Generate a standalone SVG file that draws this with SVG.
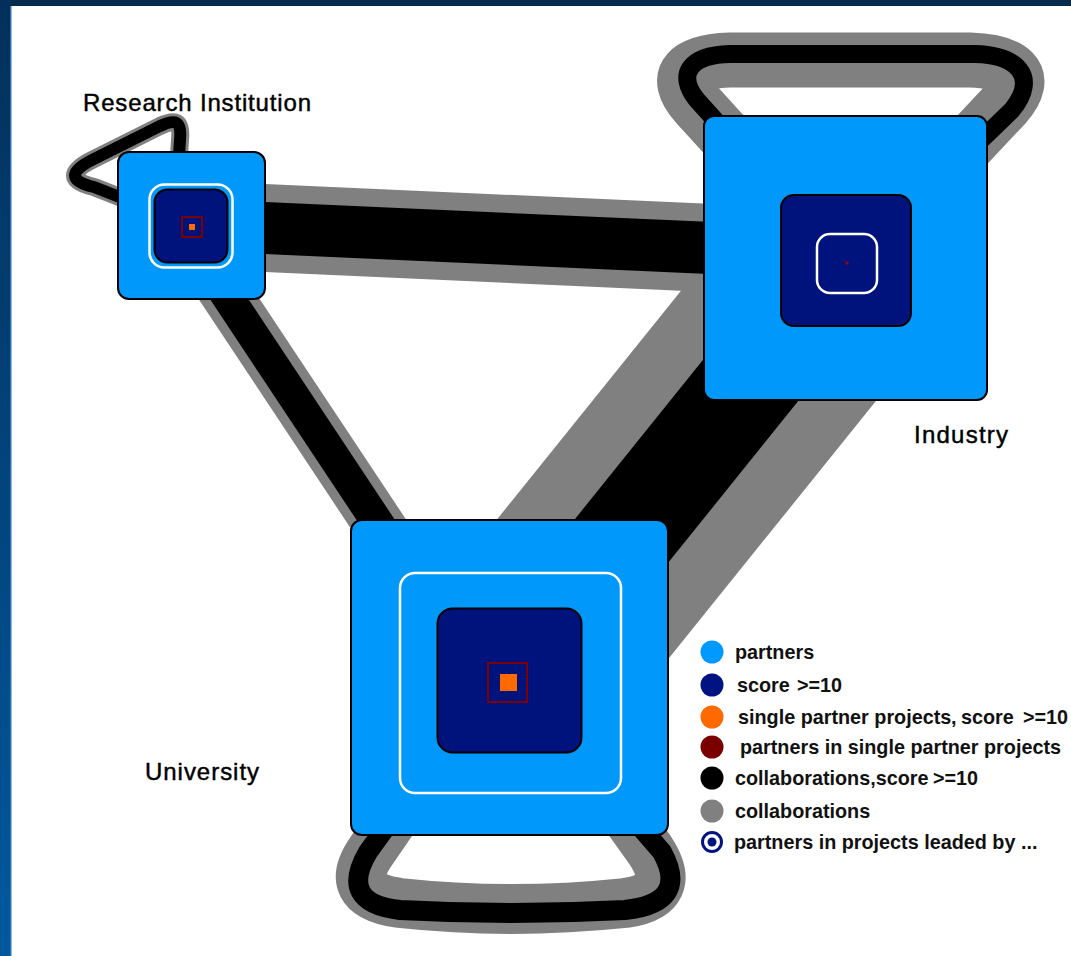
<svg xmlns="http://www.w3.org/2000/svg" width="1071" height="956" viewBox="0 0 1071 956">
<defs>
<linearGradient id="side" x1="0" y1="0" x2="0" y2="1">
<stop offset="0" stop-color="#03305a"/>
<stop offset="1" stop-color="#02589e"/>
</linearGradient>
</defs>
<style>
.gray{fill:none;stroke:#808080;stroke-linejoin:round}
.blk{fill:none;stroke:#000;stroke-linejoin:round}
.outer{fill:#0098fb;stroke:#000;stroke-width:2}
.core{fill:#00137d;stroke:#000;stroke-width:2}
.lead{fill:none;stroke:#fff;stroke-width:2.5}
.single{fill:none;stroke:#7d0000;stroke-width:2}
.orange{fill:#ff6a00}
.lbl{font-family:"Liberation Sans",Arial,sans-serif;font-size:24px;fill:#000;stroke:#000;stroke-width:0.45}
.leg{font-family:"Liberation Sans",Arial,sans-serif;font-size:19.8px;font-weight:bold;fill:#111}
</style>
<rect x="0" y="0" width="1071" height="956" fill="#fff"/>
<rect x="0" y="0" width="1071" height="6" fill="#042a4c"/>
<rect x="0" y="0" width="11" height="956" fill="url(#side)"/>
<rect x="10" y="6" width="1.5" height="950" fill="#2a72b5"/>

<g id="connectors">
<!-- gray bands -->
<line class="gray" x1="191" y1="224.7" x2="845" y2="254" stroke-width="88"/>
<line class="gray" x1="180" y1="225" x2="480" y2="677" stroke-width="51"/>
<line class="gray" x1="850" y1="257" x2="512" y2="677" stroke-width="221"/>
<path class="gray" d="M 179,155 L 180,140 C 182,120 175,119 160,126 L 92,160 C 70,171 68,181 94,187 L 122,198" stroke-width="18" stroke-linecap="round"/>
<path class="gray" d="M 770,185 L 697,105 C 670,75 690,61 730,60 L 970,60 C 1010,61 1032,75 1005,105 L 930,185" stroke-width="55"/>
<path class="gray" d="M 420,780 L 372,850 Q 340,895 400,903 Q 510,915 625,903 Q 680,895 650,850 L 600,780" stroke-width="50"/>
<!-- black bands -->
<line class="blk" x1="191" y1="224.7" x2="845" y2="254" stroke-width="52"/>
<line class="blk" x1="180" y1="225" x2="480" y2="677" stroke-width="32"/>
<line class="blk" x1="850" y1="257" x2="512" y2="677" stroke-width="100"/>
<path class="blk" d="M 179,155 L 180,140 C 182,120 175,119 160,126 L 92,160 C 70,171 68,181 94,187 L 122,198" stroke-width="12"/>
<path class="blk" d="M 760,170 L 697,100 C 676,74 690,55 730,54 L 975,54 C 1015,55 1040,75 1012,110 L 950,170" stroke-width="18"/>
<path class="blk" d="M 420,780 L 368,852 Q 338,903 400,910 Q 510,916 625,910 Q 690,903 662,852 L 600,780" stroke-width="20"/>
</g>

<g id="research">
<rect class="outer" x="118" y="152" width="147" height="147" rx="11"/>
<rect class="lead" x="149.5" y="184.5" width="83" height="83" rx="15"/>
<rect class="core" x="154.5" y="189.5" width="73" height="73" rx="13"/>
<rect class="single" x="182" y="217" width="20" height="20"/>
<rect class="orange" x="189" y="224" width="6" height="6"/>
<text class="lbl" x="83" y="111" textLength="228">Research Institution</text>
</g>

<g id="industry">
<rect class="outer" x="704" y="116" width="283" height="284" rx="10"/>
<rect class="core" x="781" y="195" width="130" height="131" rx="13"/>
<rect class="lead" x="817" y="234" width="60" height="59" rx="13"/>
<rect x="845.5" y="261.5" width="3" height="3" fill="#a00000"/>
<text class="lbl" x="914" y="443" textLength="94">Industry</text>
</g>

<g id="university">
<rect class="outer" x="351" y="520" width="317" height="315" rx="11"/>
<rect class="lead" x="400" y="573" width="221" height="220" rx="15"/>
<rect class="core" x="437.5" y="608.5" width="144" height="144" rx="15"/>
<rect class="single" x="488" y="663" width="39" height="39"/>
<rect class="orange" x="500" y="674" width="17" height="17"/>
<text class="lbl" x="145" y="780" textLength="114">University</text>
</g>

<g id="legend">
<circle cx="712" cy="652" r="11.5" fill="#0099ff"/>
<text class="leg" x="735" y="659">partners</text>
<circle cx="712" cy="685" r="11.5" fill="#001380"/>
<text class="leg" x="737" y="692">score</text>
<text class="leg" x="797" y="692">&gt;=10</text>
<circle cx="712" cy="717" r="11.5" fill="#ff6a00"/>
<text class="leg" x="738" y="724">single partner projects</text>
<text class="leg" x="951" y="724">,</text>
<text class="leg" x="961" y="724">score</text>
<text class="leg" x="1023" y="724">&gt;=10</text>
<circle cx="712" cy="747" r="11.5" fill="#7a0000"/>
<text class="leg" x="740" y="754">partners in single partner projects</text>
<circle cx="712" cy="778" r="11.5" fill="#000"/>
<text class="leg" x="735" y="785">collaborations,score</text>
<text class="leg" x="933" y="785">&gt;=10</text>
<circle cx="712" cy="811" r="11.5" fill="#808080"/>
<text class="leg" x="735" y="818">collaborations</text>
<circle cx="712" cy="842" r="9.5" fill="#fff" stroke="#001380" stroke-width="3"/>
<circle cx="712" cy="842" r="4.5" fill="#001380"/>
<text class="leg" x="734" y="849">partners in projects leaded by ...</text>
</g>
</svg>
